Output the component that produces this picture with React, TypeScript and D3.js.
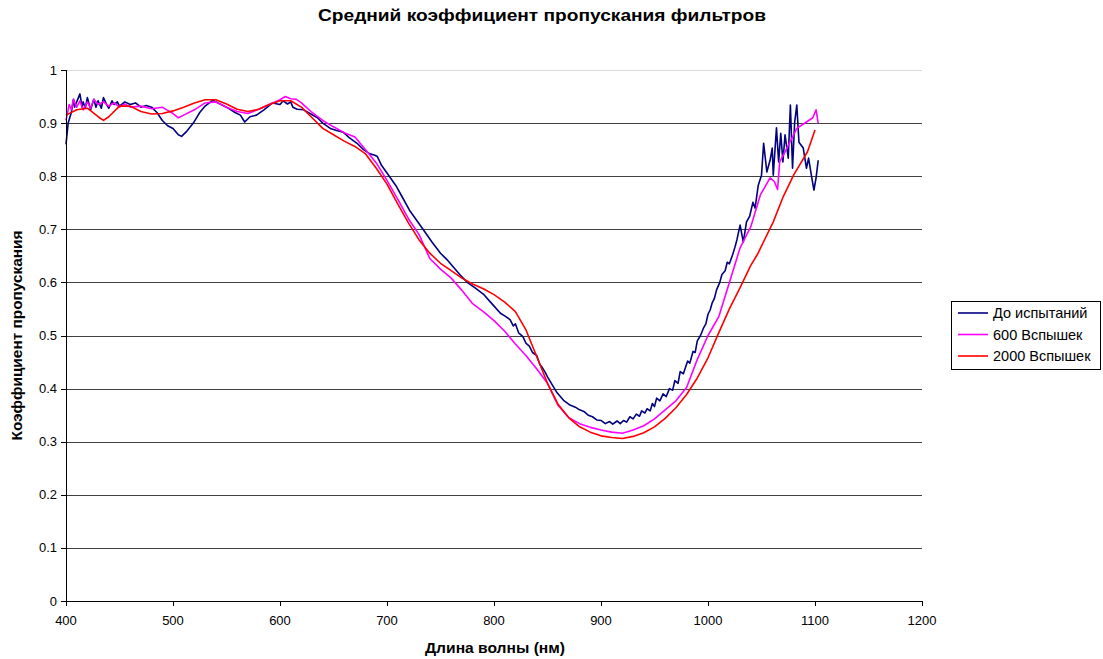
import React from "react";
import * as d3 from "d3";

// wavelength (nm) / transmittance pairs
const beforeTests: [number, number][] = [
  [400, 0.86], [402, 0.9], [405, 0.92], [407, 0.945], [408, 0.93], [410, 0.94], [413, 0.955],
  [415, 0.93], [416, 0.94], [418, 0.928], [420, 0.948], [423, 0.925], [426, 0.945], [428, 0.93],
  [430, 0.942], [433, 0.928], [435, 0.948], [438, 0.935], [440, 0.928], [443, 0.942],
  [445, 0.935], [448, 0.94], [450, 0.932], [455, 0.94], [460, 0.935], [465, 0.938],
  [470, 0.93], [475, 0.933], [480, 0.93], [485, 0.92], [490, 0.905], [495, 0.895], [500, 0.89],
  [505, 0.878], [508, 0.875], [513, 0.885], [519, 0.9], [525, 0.92], [530, 0.932],
  [537, 0.943], [545, 0.935], [550, 0.93], [558, 0.92], [563, 0.915], [567, 0.902],
  [572, 0.912], [578, 0.915], [585, 0.925], [593, 0.938], [600, 0.935], [603, 0.942], [607, 0.936],
  [610, 0.94], [612, 0.93], [616, 0.926], [622, 0.925], [628, 0.918], [635, 0.91], [640, 0.9],
  [647, 0.89], [653, 0.886], [659, 0.883], [665, 0.872], [672, 0.862], [678, 0.85],
  [684, 0.842], [688, 0.84], [691, 0.837], [695, 0.82], [700, 0.806], [709, 0.78],
  [715, 0.758], [721, 0.736], [728, 0.716], [734, 0.699], [742, 0.676], [750, 0.655],
  [756, 0.643], [762, 0.629], [768, 0.615], [775, 0.6], [782, 0.59], [790, 0.578],
  [798, 0.56], [806, 0.542], [810, 0.537], [815, 0.53], [818, 0.518], [820, 0.522],
  [823, 0.505], [827, 0.498], [830, 0.485], [833, 0.48], [836, 0.468], [840, 0.462],
  [843, 0.445], [845, 0.44], [848, 0.43], [850, 0.422], [855, 0.405], [859, 0.392], [865, 0.378],
  [871, 0.369], [876, 0.365], [880, 0.36], [884, 0.357], [888, 0.35], [892, 0.347], [896, 0.341],
  [900, 0.34], [904, 0.334], [908, 0.338], [911, 0.333], [915, 0.339], [918, 0.334],
  [921, 0.34], [924, 0.337], [927, 0.347], [930, 0.343], [933, 0.352], [936, 0.348],
  [938, 0.358], [941, 0.354], [943, 0.362], [946, 0.358], [948, 0.372], [950, 0.366],
  [952, 0.382], [955, 0.377], [958, 0.39], [961, 0.385], [964, 0.4], [967, 0.397],
  [969, 0.415], [972, 0.41], [974, 0.432], [977, 0.428], [979, 0.44], [981, 0.452],
  [983, 0.448], [986, 0.47], [988, 0.468], [990, 0.49], [993, 0.5], [996, 0.515],
  [998, 0.522], [1000, 0.54], [1002, 0.548], [1004, 0.562], [1006, 0.57], [1008, 0.586],
  [1011, 0.6], [1013, 0.615], [1016, 0.622], [1018, 0.638], [1020, 0.635], [1023, 0.652],
  [1025, 0.665], [1027, 0.68], [1030, 0.708], [1033, 0.676], [1036, 0.714], [1039, 0.725],
  [1042, 0.751], [1044, 0.74], [1047, 0.783], [1050, 0.802], [1052, 0.862], [1055, 0.808],
  [1058, 0.83], [1060, 0.853], [1061, 0.802], [1064, 0.891], [1066, 0.827], [1068, 0.881],
  [1070, 0.827], [1072, 0.878], [1075, 0.834], [1077, 0.934], [1079, 0.815], [1081, 0.902],
  [1083, 0.934], [1085, 0.864], [1089, 0.853], [1092, 0.815], [1094, 0.834], [1097, 0.797],
  [1099, 0.774], [1101, 0.797], [1103, 0.83],
];

const flashes600: [number, number][] = [
  [400, 0.905], [403, 0.935], [405, 0.925], [407, 0.945], [410, 0.93], [413, 0.942],
  [416, 0.925], [420, 0.94], [423, 0.928], [426, 0.945], [430, 0.935], [435, 0.94],
  [440, 0.932], [445, 0.938], [450, 0.93], [455, 0.936], [460, 0.93], [470, 0.932],
  [480, 0.927], [490, 0.93], [495, 0.924], [500, 0.918], [505, 0.91], [510, 0.915],
  [520, 0.925], [530, 0.938], [540, 0.94], [550, 0.93], [560, 0.922], [570, 0.918],
  [580, 0.926], [590, 0.935], [600, 0.944], [605, 0.95], [610, 0.946], [615, 0.945],
  [620, 0.938], [630, 0.92], [640, 0.905], [650, 0.893], [660, 0.882], [670, 0.874],
  [680, 0.85], [690, 0.825], [700, 0.792], [710, 0.757], [720, 0.72], [730, 0.69],
  [740, 0.645], [750, 0.625], [760, 0.608], [770, 0.585], [780, 0.56], [790, 0.545],
  [800, 0.528], [810, 0.508], [820, 0.484], [830, 0.462], [840, 0.437], [850, 0.41],
  [860, 0.368], [870, 0.345], [880, 0.334], [890, 0.327], [900, 0.322], [910, 0.318],
  [920, 0.316], [930, 0.322], [940, 0.33], [950, 0.343], [960, 0.36], [970, 0.377],
  [980, 0.402], [990, 0.455], [1000, 0.5], [1010, 0.535], [1020, 0.6], [1030, 0.665],
  [1040, 0.705], [1049, 0.765], [1058, 0.797], [1062, 0.79], [1065, 0.775], [1067, 0.827],
  [1073, 0.85], [1078, 0.87], [1083, 0.89], [1092, 0.902], [1098, 0.91], [1101, 0.925],
  [1103, 0.9],
];

const flashes2000: [number, number][] = [
  [400, 0.915], [410, 0.925], [420, 0.928], [430, 0.912], [435, 0.905], [440, 0.912],
  [450, 0.932], [460, 0.932], [470, 0.922], [480, 0.917], [490, 0.918], [500, 0.923],
  [510, 0.93], [520, 0.938], [530, 0.944], [540, 0.944], [550, 0.936], [560, 0.926],
  [570, 0.922], [580, 0.926], [590, 0.935], [600, 0.942], [610, 0.942], [620, 0.93],
  [630, 0.91], [640, 0.89], [650, 0.878], [660, 0.866], [670, 0.856], [680, 0.842],
  [690, 0.815], [700, 0.785], [710, 0.748], [720, 0.712], [730, 0.68], [740, 0.655],
  [750, 0.636], [760, 0.622], [770, 0.608], [780, 0.597], [790, 0.588], [800, 0.577],
  [810, 0.563], [820, 0.545], [830, 0.51], [840, 0.46], [850, 0.41], [860, 0.37],
  [870, 0.345], [880, 0.328], [890, 0.318], [900, 0.311], [910, 0.308], [920, 0.306],
  [930, 0.31], [940, 0.317], [950, 0.328], [960, 0.344], [970, 0.364], [980, 0.389],
  [990, 0.42], [1000, 0.458], [1010, 0.505], [1020, 0.55], [1030, 0.59], [1040, 0.632],
  [1046, 0.652], [1061, 0.714], [1070, 0.76], [1080, 0.802], [1093, 0.846], [1100, 0.887],
];

const seriesNames = ["До испытаний", "600 Вспышек", "2000 Вспышек"];
const seriesColors = ["#000080", "#ff00ff", "#ff0000"];
const xTicks = [400, 500, 600, 700, 800, 900, 1000, 1100, 1200];
const yTicks = [0, 0.1, 0.2, 0.3, 0.4, 0.5, 0.6, 0.7, 0.8, 0.9, 1];

const W = 1103;
const H = 659;
const plot = { left: 66, right: 922, top: 70, bottom: 601 };
const font = "'Liberation Sans', Arial, sans-serif";

export default function App() {
  const x = d3.scaleLinear().domain([400, 1200]).range([plot.left, plot.right]);
  const y = d3.scaleLinear().domain([0, 1]).range([plot.bottom, plot.top]);
  const line = d3
    .line<[number, number]>()
    .x((d) => x(d[0]))
    .y((d) => y(d[1]));

  const allSeries = [beforeTests, flashes600, flashes2000];

  return (
    <svg
      width={W}
      height={H}
      style={{ position: "absolute", left: 0, top: 0, background: "#fff" }}
      fontFamily={font}
    >
      {/* gridlines */}
      {yTicks.slice(1).map((t) => (
        <line
          key={t}
          x1={plot.left}
          x2={plot.right}
          y1={Math.round(y(t)) + 0.5}
          y2={Math.round(y(t)) + 0.5}
          stroke={t === 1 ? "#d9d9d9" : "#404040"}
          strokeWidth={1}
        />
      ))}

      {/* series */}
      {allSeries.map((s, i) => (
        <path
          key={i}
          d={line(s) || ""}
          fill="none"
          stroke={seriesColors[i]}
          strokeWidth={1.6}
          strokeLinejoin="round"
        />
      ))}

      {/* y axis */}
      <line x1={plot.left + 0.5} x2={plot.left + 0.5} y1={plot.top} y2={plot.bottom} stroke="#000" />
      {yTicks.map((t) => (
        <g key={t}>
          <line
            x1={plot.left - 5}
            x2={plot.left}
            y1={Math.round(y(t)) + 0.5}
            y2={Math.round(y(t)) + 0.5}
            stroke="#000"
          />
          <text x={plot.left - 9} y={y(t)} dy="0.35em" textAnchor="end" fontSize={13}>
            {d3.format("")(t)}
          </text>
        </g>
      ))}

      {/* x axis */}
      <line x1={plot.left} x2={plot.right} y1={plot.bottom + 0.5} y2={plot.bottom + 0.5} stroke="#000" />
      {xTicks.map((t) => (
        <g key={t}>
          <line
            x1={Math.round(x(t)) + 0.5}
            x2={Math.round(x(t)) + 0.5}
            y1={plot.bottom}
            y2={plot.bottom + 5}
            stroke="#000"
          />
          <text x={x(t)} y={plot.bottom + 24} textAnchor="middle" fontSize={13}>
            {t}
          </text>
        </g>
      ))}

      {/* titles */}
      <text
        x={542}
        y={21}
        textAnchor="middle"
        fontSize={16}
        fontWeight="bold"
        textLength={448}
        lengthAdjust="spacingAndGlyphs"
      >
        Средний коэффициент пропускания фильтров
      </text>
      <text
        x={495}
        y={653}
        textAnchor="middle"
        fontSize={14}
        fontWeight="bold"
        textLength={140}
        lengthAdjust="spacingAndGlyphs"
      >
        Длина волны (нм)
      </text>
      <text
        transform={`translate(22, ${(plot.top + plot.bottom) / 2}) rotate(-90)`}
        textAnchor="middle"
        fontSize={14}
        fontWeight="bold"
        textLength={210}
        lengthAdjust="spacingAndGlyphs"
      >
        Коэффициент пропускания
      </text>

      {/* legend */}
      <rect x={951.5} y={301.5} width={149} height={68} fill="#fff" stroke="#000" />
      {seriesNames.map((n, i) => (
        <g key={n} transform={`translate(958, ${313 + i * 21.5})`}>
          <line x1={0} x2={30} y1={0} y2={0} stroke={seriesColors[i]} strokeWidth={1.6} />
          <text x={35} y={0} dy="0.35em" fontSize={14.5}>
            {n}
          </text>
        </g>
      ))}
    </svg>
  );
}
